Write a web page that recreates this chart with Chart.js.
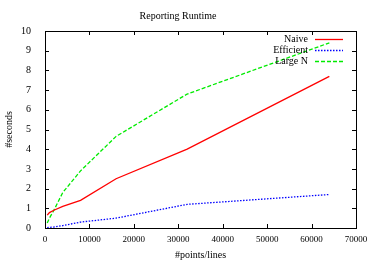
<!DOCTYPE html>
<html>
<head>
<meta charset="utf-8">
<script src="https://cdn.jsdelivr.net/npm/chart.js@4"></script>
<style>
  html, body { margin: 0; padding: 0; background: #fff; }
  #wrap { width: 374px; height: 262px; }
</style>
</head>
<body>
<div id="wrap"><canvas id="chart-section" width="374" height="262"></canvas></div>
<script>
var xs = [500, 1000, 2000, 4000, 8000, 16000, 32000, 64000];
var naive = [0.65, 0.78, 0.9, 1.1, 1.4, 2.5, 4.0, 7.7];
var efficient = [0.02, 0.03, 0.05, 0.12, 0.3, 0.5, 1.2, 1.7];
var largeN = [0.25, 0.5, 0.9, 1.8, 2.9, 4.65, 6.8, 9.4];
var xTicks = [0, 10000, 20000, 30000, 40000, 50000, 60000, 70000];
var yTicks = [0, 1, 2, 3, 4, 5, 6, 7, 8, 9, 10];

var serif = "'Liberation Serif', 'DejaVu Serif', serif";

function pts(ys) {
	return xs.map(function(x, i){ return {x: x, y: ys[i]}; });
}

// gnuplot style: inward ticks on all four sides, plus key in upper right
var gnuplotFrame = {
	id: 'gnuplotFrame',
	afterDatasetsDraw: function(chart) {
		var ctx = chart.ctx, a = chart.chartArea;
		var sx = chart.scales.x, sy = chart.scales.y;
		ctx.save();
		ctx.strokeStyle = '#000';
		ctx.lineWidth = 1;
		ctx.beginPath();
		xTicks.forEach(function(v){
			var p = Math.round(sx.getPixelForValue(v)) + 0.5;
			ctx.moveTo(p, a.bottom); ctx.lineTo(p, a.bottom - 4);
			ctx.moveTo(p, a.top); ctx.lineTo(p, a.top + 4);
		});
		yTicks.forEach(function(v){
			var p = Math.round(sy.getPixelForValue(v)) + 0.5;
			ctx.moveTo(a.left, p); ctx.lineTo(a.left + 4, p);
			ctx.moveTo(a.right, p); ctx.lineTo(a.right - 4, p);
		});
		ctx.stroke();
		ctx.strokeRect(Math.round(a.left) + 0.5, Math.round(a.top) + 0.5,
			Math.round(a.right - a.left), Math.round(a.bottom - a.top));

		// key
		ctx.font = '10px ' + serif;
		ctx.textAlign = 'right';
		ctx.textBaseline = 'middle';
		chart.data.datasets.forEach(function(ds, i){
			var y = a.top + 8 + i * 11;
			var xr = a.right - 48;
			ctx.fillStyle = '#000';
			ctx.fillText(ds.label, xr, y);
			ctx.strokeStyle = ds.borderColor;
			ctx.lineWidth = 1.3;
			ctx.setLineDash(ds.borderDash || []);
			ctx.beginPath();
			ctx.moveTo(xr + 7, y + 0.5);
			ctx.lineTo(xr + 35, y + 0.5);
			ctx.stroke();
		});
		ctx.restore();
	}
};

var canvas = document.getElementById('chart-section').getContext('2d');
window.lineal = new Chart(canvas, {
	type: 'line',
	data: {
		datasets: [
			{ label: 'Naive', data: pts(naive), borderColor: 'rgb(255,0,0)', borderWidth: 1.3 },
			{ label: 'Efficient', data: pts(efficient), borderColor: 'rgb(0,0,255)', borderWidth: 1.3, borderDash: [1.5, 1.5] },
			{ label: 'Large N', data: pts(largeN), borderColor: 'rgb(0,235,0)', borderWidth: 1.3, borderDash: [4, 2] }
		]
	},
	plugins: [gnuplotFrame],
	options: {
		responsive: false,
		animation: false,
		devicePixelRatio: 1,
		layout: { padding: { left: 0, right: 18, top: 0, bottom: 0 } },
		elements: { point: { radius: 0 }, line: { tension: 0 } },
		plugins: {
			legend: { display: false },
			tooltip: { enabled: false },
			title: {
				display: true,
				text: 'Reporting Runtime',
				color: '#000',
				font: { family: serif, size: 10, weight: 'normal' },
				padding: { top: 10, bottom: 9 }
			}
		},
		scales: {
			x: {
				type: 'linear',
				min: 0, max: 70000,
				afterFit: function(s){ s.height = 34; },
				afterBuildTicks: function(s){ s.ticks = xTicks.map(function(v){ return {value: v}; }); },
				grid: { display: false, drawTicks: false },
				border: { display: false },
				ticks: { color: '#000', padding: 6, maxRotation: 0, font: { family: serif, size: 9 },
					callback: function(v){ return String(v); } },
				title: { display: true, text: '#points/lines', color: '#000', padding: { top: 0, bottom: 1 },
					font: { family: serif, size: 10 } }
			},
			y: {
				type: 'linear',
				min: 0, max: 10,
				afterFit: function(s){ s.width = 45; },
				afterBuildTicks: function(s){ s.ticks = yTicks.map(function(v){ return {value: v}; }); },
				grid: { display: false },
				border: { display: false },
				ticks: { color: '#000', padding: 6, font: { family: serif, size: 10 } },
				title: { display: true, text: '#seconds', color: '#000', padding: { top: 3, bottom: 0 },
					font: { family: serif, size: 10 } }
			}
		}
	}
});
</script>
</body>
</html>
